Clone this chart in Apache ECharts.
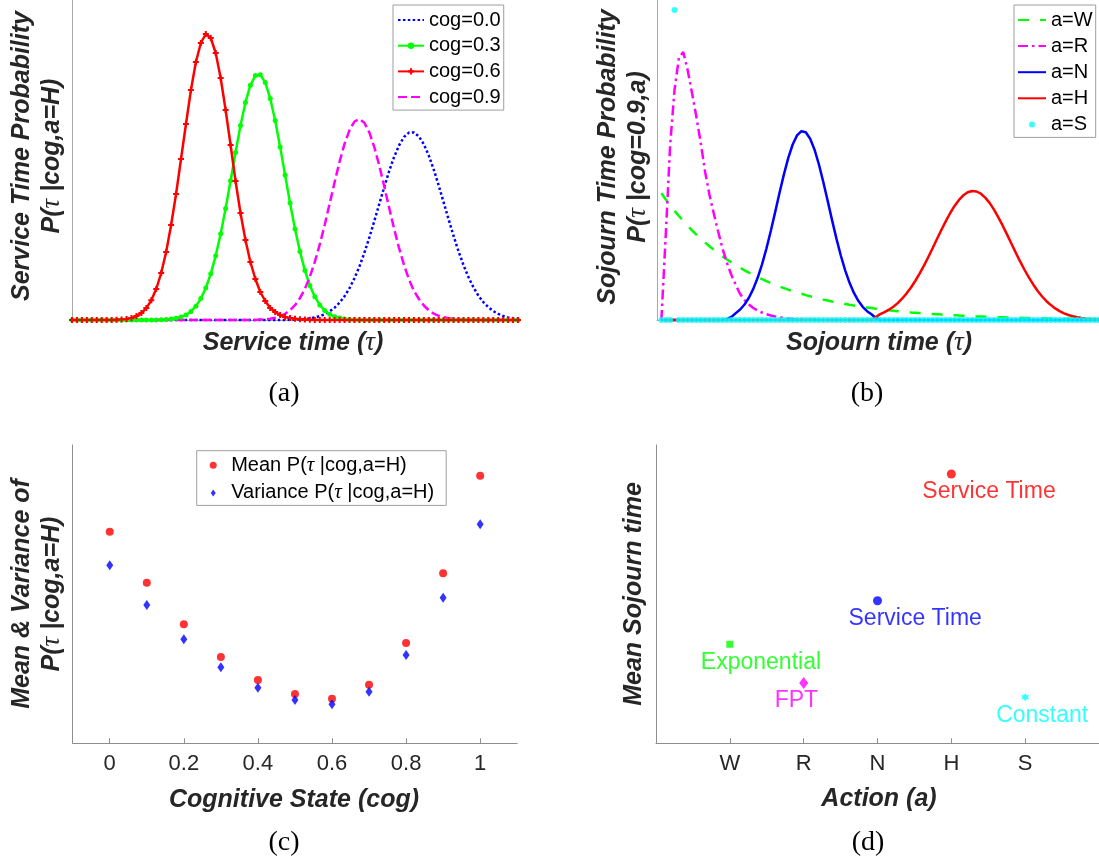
<!DOCTYPE html>
<html>
<head>
<meta charset="utf-8">
<script src="https://cdn.jsdelivr.net/npm/echarts@6/dist/echarts.min.js"></script>
<style>
  html, body { margin: 0; padding: 0; background: #fff; }
  #chart { width: 1099px; height: 867px; }
</style>
</head>
<body>
<div id="chart"></div>
<script>
// ---------- (a) service-time density P(tau | cog, a=H), sampled on tau index ----------
const tauA = [0,1,2,3,4,5,6,7,8,9,10,11,12,13,14,15,16,17,18,19,20,21,22,23,24,25,26,27,28,29,30,
  31,32,33,34,35,36,37,38,39,40,41,42,43,44,45,46,47,48,49,50,51,52,53,54,55,56,57,58,59,60,
  61,62,63,64,65,66,67,68,69,70,71,72,73,74,75,76,77,78,79,80,81,82,83,84,85,86,87,88,89,90];

const pA_cog00 = [0,0,0,0,0,0,0,0,0,0,0,0,0,0,0,0,0,0,0,0,0,0,0,0,0,0,0,0,0,0,0,0,0,0,0,0,0,0,0,0,0,0,0,0,
  0.002,0.004,0.006,0.010,0.016,0.025,0.039,0.058,0.086,0.123,0.173,0.237,0.318,0.418,0.536,0.672,
  0.825,0.989,1.159,1.328,1.489,1.631,1.747,1.830,1.874,1.876,1.836,1.757,1.644,1.504,1.345,1.176,
  1.006,0.840,0.687,0.549,0.429,0.328,0.244,0.179,0.128,0.089,0.061,0.040,0.026,0.017,0.010];

const pA_cog03 = [0,0,0,0,0,0,0,0,0,0,0,0,0,0,0,0,0,0,
  0.002,0.004,0.009,0.017,0.030,0.051,0.086,0.138,0.214,0.320,0.462,0.643,0.862,1.116,1.392,1.675,
  1.944,2.176,2.348,2.444,2.453,2.374,2.216,1.994,1.731,1.449,1.170,0.910,0.684,0.495,0.345,0.233,
  0.151,0.095,0.057,0.033,0.019,0.010,0.005,0.002,
  0,0,0,0,0,0,0,0,0,0,0,0,0,0,0,0,0,0,0,0,0,0,0,0,0,0,0,0,0,0,0,0,0];

const pA_cog06 = [0,0,0,0,0,0,0,0,0,
  0.002,0.005,0.011,0.021,0.039,0.069,0.119,0.197,0.310,0.470,0.680,0.950,1.260,1.610,1.960,2.300,
  2.580,2.770,2.860,2.820,2.670,2.420,2.100,1.750,1.390,1.070,0.800,0.580,0.410,0.280,0.190,0.120,
  0.080,0.050,0.030,0.020,0.012,0.007,0.004,0.002,0.001,
  0,0,0,0,0,0,0,0,0,0,0,0,0,0,0,0,0,0,0,0,0,0,0,0,0,0,0,0,0,0,0,0,0,0,0,0,0,0,0,0,0];

const pA_cog09 = [0,0,0,0,0,0,0,0,0,0,0,0,0,0,0,0,0,0,0,0,0,0,0,0,0,0,0,0,0,0,0,0,0,0,0,0,0,0,
  0.004,0.007,0.013,0.023,0.038,0.062,0.097,0.148,0.218,0.312,0.433,0.581,0.756,0.953,1.165,1.380,
  1.584,1.762,1.899,1.985,2.010,1.972,1.876,1.729,1.545,1.337,1.122,0.912,0.719,0.549,0.406,0.291,
  0.210,0.145,0.097,0.064,0.042,0.027,0.017,0.011,0.007,0.004,0.002,0.001,
  0,0,0,0,0,0,0,0,0];

const cogNamesA = ['cog=0.0', 'cog=0.3', 'cog=0.6', 'cog=0.9'];

// ---------- (b) sojourn-time density P(tau | cog=0.9, a) ----------
const tauB = [0,1,2,3,4,5,6,7,8,9,10,11,12,13,14,15,16,17,18,19,20,21,22,23,24,25,26,27,28,29,30,
  31,32,33,34,35,36,37,38,39,40,41,42,43,44,45,46,47,48,49,50,51,52,53,54,55,56,57,58,59,60,
  61,62,63,64,65,66,67,68,69,70,71,72,73,74,75,76,77,78,79,80,81,82,83,84,85,86,87,88,89,90,
  91,92,93,94,95,96,97,98,99,100];

const pB_W = [1.267,1.206,1.148,1.093,1.040,0.990,0.943,0.897,0.854,0.813,0.774,0.737,0.701,0.668,
  0.636,0.605,0.576,0.548,0.522,0.497,0.473,0.450,0.428,0.408,0.388,0.370,0.352,0.335,0.319,0.303,
  0.289,0.275,0.262,0.249,0.237,0.226,0.215,0.204,0.195,0.185,0.176,0.168,0.160,0.152,0.145,0.138,
  0.131,0.125,0.119,0.113,0.108,0.102,0.097,0.093,0.088,0.084,0.080,0.076,0.073,0.069,0.066,0.063,
  0.060,0.057,0.054,0.051,0.049,0.047,0.044,0.042,0.040,0.038,0.036,0.035,0.033,0.031,0.030,0.028,
  0.027,0.026,0.024,0.023,0.022,0.021,0.020,0.019,0.018,0.017,0.016,0.015,0.015,0.014,0.013,0.013,
  0.012,0.011,0.011,0.010,0.010,0.009,0.009];

const pB_R = [0,0.85,1.75,2.30,2.62,2.68,2.50,2.27,2.03,1.77,1.48,1.25,1.06,0.88,0.71,0.57,0.45,
  0.35,0.26,0.20,0.155,0.12,0.095,0.075,0.058,0.045,0.035,0.027,0.020,0.015,0.011,0.008,0.006,0.004,
  0.003,0.002,0.001,
  0,0,0,0,0,0,0,0,0,0,0,0,0,0,0,0,0,0,0,0,0,0,0,0,0,0,0,0,0,0,0,0,0,0,0,0,0,0,0,0,0,0,0,0,0,0,
  0,0,0,0,0,0,0,0,0,0,0,0,0,0,0,0,0,0];

const pB_N = [0,0,0,0,0,0,0,0,0,0,0,0,0,0,0,
  0.010,0.030,0.069,0.105,0.155,0.223,0.311,0.422,0.557,0.714,0.890,1.079,1.272,1.456,1.621,1.755,
  1.846,1.888,1.877,1.813,1.703,1.555,1.380,1.191,0.999,0.814,0.645,0.497,0.372,0.271,0.192,0.132,
  0.088,0.057,0.020,
  0,0,0,0,0,0,0,0,0,0,0,0,0,0,0,0,0,0,0,0,0,0,0,0,0,0,0,0,0,0,0,0,0,0,0,0,0,0,0,0,0,0,0,0,0,0,
  0,0,0,0,0];

const pB_H = [0,0,0,0,0,0,0,0,0,0,0,0,0,0,0,0,0,0,0,0,0,0,0,0,0,0,0,0,0,0,0,0,0,0,0,0,0,0,0,0,
  0,0,0,0,0,0,0,0,0,
  0.030,0.059,0.078,0.103,0.133,0.169,0.213,0.264,0.323,0.390,0.464,0.544,0.630,0.720,0.812,0.902,
  0.989,1.070,1.141,1.201,1.247,1.277,1.290,1.285,1.263,1.224,1.171,1.104,1.027,0.943,0.854,0.762,
  0.671,0.583,0.500,0.423,0.353,0.290,0.235,0.188,0.149,0.116,0.089,0.067,0.050,0.037,0.027,0.019,
  0.013,0.009,0.006,0.004];

const pB_S = [0,0,0,3.10,0,0,0,0,0,0,0,0,0,0,0,0,0,0,0,0,0,0,0,0,0,0,0,0,0,0,0,0,0,0,0,0,0,0,0,0,
  0,0,0,0,0,0,0,0,0,0,0,0,0,0,0,0,0,0,0,0,0,0,0,0,0,0,0,0,0,0,0,0,0,0,0,0,0,0,0,0,0,0,0,0,0,0,
  0,0,0,0,0,0,0,0,0,0,0,0,0,0,0];

const actionNamesB = ['a=W', 'a=R', 'a=N', 'a=H', 'a=S'];

// ---------- (c) mean and variance of P(tau | cog, a=H) ----------
const cogStates = [0, 0.1, 0.2, 0.3, 0.4, 0.5, 0.6, 0.7, 0.8, 0.9, 1.0];
const meanH = [21.28, 16.15, 11.97, 8.68, 6.37, 4.96, 4.49, 5.89, 10.09, 17.10, 26.91];
const varH  = [17.90, 13.91, 10.46, 7.64, 5.59, 4.35, 3.92, 5.19, 8.88, 14.64, 22.03];
const cogTicks = [0, 0.2, 0.4, 0.6, 0.8, 1];
const cogTickLabels = ['0', '0.2', '0.4', '0.6', '0.8', '1'];
const statNamesC = ['Mean P(τ |cog,a=H)', 'Variance P(τ |cog,a=H)'];

// ---------- (d) mean sojourn time per action ----------
const actions = ['W', 'R', 'N', 'H', 'S'];
const actionPos = [1, 2, 3, 4, 5];
const meanSojourn = [9.96, 6.06, 14.34, 27.08, 4.63];
const sojournModel = ['Exponential', 'FPT', 'Service Time', 'Service Time', 'Constant'];

// ---------- styling ----------
const SANS = '"Liberation Sans", Arial, Helvetica, sans-serif';
const SERIF = '"Liberation Serif", "Times New Roman", serif';
const INK = '#262626';
const AXIS_LIGHT = '#a8a8a8';
const AXIS_DARK = '#8e8e8e';
const C = { blue: '#0000ff', green: '#00ff00', red: '#ff0000', magenta: '#ff00ff', cyan: '#00ffff' };
const plusMark = 'path://M2,0h2v2h2v2h-2v2h-2v-2h-2v-2h2z';
const diamondMark = 'path://M0,-7L5,0L0,7L-5,0Z';
const hexStar = 'path://M0,-10L2.9,-5L8.66,-5L5.8,0L8.66,5L2.9,5L0,10L-2.9,5L-8.66,5L-5.8,0L-8.66,-5L-2.9,-5Z';
const dStyles = [
  { symbol: 'rect', symbolSize: 7, color: C.green },
  { symbol: 'diamond', symbolSize: [9, 12], color: C.magenta },
  { symbol: 'circle', symbolSize: 9, color: C.blue },
  { symbol: 'circle', symbolSize: 9, color: C.red },
  { symbol: hexStar, symbolSize: 8, color: C.cyan }
];

const zip = (xs, ys) => xs.map((x, i) => [x, ys[i]]);
const tauRich = { t: { fontFamily: SERIF, fontStyle: 'italic', fontWeight: 'normal', fontSize: 27, lineHeight: 30, fill: INK } };
const tauRichLegend = { t: { fontFamily: SERIF, fontStyle: 'italic', fontSize: 21, lineHeight: 20, color: '#000' } };

function hiddenAxis(grid, min, max, color) {
  return {
    gridIndex: grid, type: 'value', min: min, max: max,
    axisLine: { show: true, onZero: false, lineStyle: { color: color, width: 1 } },
    axisTick: { show: false }, axisLabel: { show: false }, splitLine: { show: false }
  };
}

// legend entries; line-only entries hide the marker in their key
function legendBox(items, left, top, pad, itemW, itemH, gap) {
  return {
    data: items, orient: 'vertical', left: left, top: top, padding: pad,
    itemWidth: itemW, itemHeight: itemH, itemGap: gap, selectedMode: false, symbolKeepAspect: true,
    backgroundColor: '#fff', borderColor: '#9f9f9f', borderWidth: 1, borderRadius: 0,
    formatter: n => n.replace('τ', '{t|τ}'),
    textStyle: { fontFamily: SANS, fontSize: 20, lineHeight: 20, color: '#000', rich: tauRichLegend }
  };
}
const lineOnly = name => ({ name: name, itemStyle: { opacity: 0 } });

function title(text, x, y, rotate) {
  return {
    type: 'text', x: x, y: y, rotation: rotate ? Math.PI / 2 : 0, silent: true,
    style: {
      text: text, fontFamily: SANS, fontWeight: 'bold', fontStyle: 'italic', fontSize: 25,
      lineHeight: 30, fill: INK, align: 'center', verticalAlign: 'middle', rich: tauRich
    }
  };
}

function caption(text, x, y) {
  return {
    type: 'text', x: x, y: y, silent: true,
    style: { text: text, fontFamily: SERIF, fontSize: 28, fill: '#000', align: 'center', verticalAlign: 'middle' }
  };
}

const chart = echarts.init(document.getElementById('chart'), null, { renderer: 'canvas' });

const option = {
  animation: false,
  backgroundColor: '#fff',
  textStyle: { fontFamily: SANS },
  grid: [
    { left: 72, top: 0, width: 446, height: 320 },
    { left: 657, top: 0, width: 442, height: 320 },
    { left: 72.7, top: 445, width: 444.5, height: 298.3 },
    { left: 656, top: 445, width: 444, height: 298.3 }
  ],
  xAxis: [
    hiddenAxis(0, 0, 90, AXIS_LIGHT),
    hiddenAxis(1, -1, 100, AXIS_LIGHT),
    {
      gridIndex: 2, type: 'value', min: -0.1, max: 1.1,
      axisLine: { show: true, onZero: false, lineStyle: { color: AXIS_DARK, width: 1 } },
      axisTick: { show: true, inside: true, length: 5, customValues: cogTicks, lineStyle: { color: AXIS_DARK } },
      axisLabel: {
        customValues: cogTicks, margin: 10, fontSize: 22, color: INK, fontFamily: SANS,
        formatter: v => cogTickLabels[cogTicks.indexOf(v)]
      },
      splitLine: { show: false }
    },
    {
      gridIndex: 3, type: 'value', min: 0, max: 6,
      axisLine: { show: true, onZero: false, lineStyle: { color: AXIS_DARK, width: 1 } },
      axisTick: { show: true, inside: true, length: 5, customValues: actionPos, lineStyle: { color: AXIS_DARK } },
      axisLabel: {
        customValues: actionPos, margin: 10, fontSize: 22, color: INK, fontFamily: SANS,
        formatter: v => actions[actionPos.indexOf(v)]
      },
      splitLine: { show: false }
    }
  ],
  yAxis: [
    hiddenAxis(0, 0, 3.2, AXIS_LIGHT),
    hiddenAxis(1, 0, 3.2, AXIS_LIGHT),
    hiddenAxis(2, 0, 30, AXIS_DARK),
    hiddenAxis(3, 0, 30, AXIS_DARK)
  ],
  legend: [
    legendBox([lineOnly(cogNamesA[0]), cogNamesA[1], cogNamesA[2], lineOnly(cogNamesA[3])],
      393, 5, [5, 3, 3, 4], 26, 8, 5.7),
    legendBox([lineOnly(actionNamesB[0]), lineOnly(actionNamesB[1]), lineOnly(actionNamesB[2]),
      lineOnly(actionNamesB[3]), actionNamesB[4]], 1014, 5, [5, 3, 3, 3], 28, 6, 6.1),
    legendBox([statNamesC[0], { name: statNamesC[1], icon: diamondMark }],
      196.7, 450.7, [4, 12, 2, 13], 26, 7, 6.7)
  ],
  series: [
    // (a)
    { name: cogNamesA[0], type: 'line', xAxisIndex: 0, yAxisIndex: 0, data: zip(tauA, pA_cog00),
      symbol: 'none', clip: false, silent: true,
      lineStyle: { color: C.blue, width: 2.5, type: [2.5, 2.4] }, itemStyle: { color: C.blue } },
    { name: cogNamesA[1], type: 'line', xAxisIndex: 0, yAxisIndex: 0, data: zip(tauA, pA_cog03),
      symbol: 'circle', symbolSize: 5, showAllSymbol: true, clip: false, silent: true,
      lineStyle: { color: C.green, width: 2.5 }, itemStyle: { color: C.green } },
    { name: cogNamesA[2], type: 'line', xAxisIndex: 0, yAxisIndex: 0, data: zip(tauA, pA_cog06),
      symbol: plusMark, symbolSize: 6, showAllSymbol: true, clip: false, silent: true,
      lineStyle: { color: C.red, width: 2.5 }, itemStyle: { color: C.red } },
    { name: cogNamesA[3], type: 'line', xAxisIndex: 0, yAxisIndex: 0, data: zip(tauA, pA_cog09),
      symbol: 'none', clip: false, silent: true,
      lineStyle: { color: C.magenta, width: 2.5, type: [9, 4] }, itemStyle: { color: C.magenta } },
    // (b)
    { name: actionNamesB[0], type: 'line', xAxisIndex: 1, yAxisIndex: 1, data: zip(tauB, pB_W),
      symbol: 'none', clip: false, silent: true,
      lineStyle: { color: C.green, width: 2.5, type: [11, 11] }, itemStyle: { color: C.green } },
    { name: actionNamesB[1], type: 'line', xAxisIndex: 1, yAxisIndex: 1, data: zip(tauB, pB_R),
      symbol: 'none', clip: false, silent: true,
      lineStyle: { color: C.magenta, width: 2.5, type: [10, 4, 2.5, 4] }, itemStyle: { color: C.magenta } },
    { name: actionNamesB[2], type: 'line', xAxisIndex: 1, yAxisIndex: 1, data: zip(tauB, pB_N),
      symbol: 'none', clip: false, silent: true,
      lineStyle: { color: C.blue, width: 2.5 }, itemStyle: { color: C.blue } },
    { name: actionNamesB[3], type: 'line', xAxisIndex: 1, yAxisIndex: 1, data: zip(tauB, pB_H),
      symbol: 'none', clip: false, silent: true,
      lineStyle: { color: C.red, width: 2.5 }, itemStyle: { color: C.red } },
    { name: actionNamesB[4], type: 'scatter', xAxisIndex: 1, yAxisIndex: 1, data: zip(tauB, pB_S),
      symbol: 'circle', symbolSize: 6, clip: false, silent: true, z: 5, itemStyle: { color: C.cyan } },
    // (c)
    { name: statNamesC[0], type: 'scatter', xAxisIndex: 2, yAxisIndex: 2, data: zip(cogStates, meanH),
      symbol: 'circle', symbolSize: 8, silent: true, itemStyle: { color: C.red } },
    { name: statNamesC[1], type: 'scatter', xAxisIndex: 2, yAxisIndex: 2, data: zip(cogStates, varH),
      symbol: 'diamond', symbolSize: [7, 10], silent: true, itemStyle: { color: C.blue } },
    // (d)
    { name: 'Mean Sojourn time', type: 'scatter', xAxisIndex: 3, yAxisIndex: 3, silent: true, clip: false,
      data: actionPos.map((x, i) => ({
        value: [x, meanSojourn[i]],
        symbol: dStyles[i].symbol, symbolSize: dStyles[i].symbolSize,
        itemStyle: { color: dStyles[i].color },
        label: { color: dStyles[i].color }
      })),
      label: {
        show: true, position: 'inside', align: 'left', verticalAlign: 'middle', offset: [-29, 18],
        fontFamily: SANS, fontSize: 23, formatter: p => sojournModel[p.dataIndex]
      }
    }
  ],
  graphic: [
    title('Service time ({t|τ})', 293, 343, false),
    title('Service Time Probability\nP({t|τ} |cog,a=H)', 36.7, 156, true),
    caption('(a)', 284, 394),
    title('Sojourn time ({t|τ})', 879, 343, false),
    title('Sojourn Time Probability\nP({t|τ} |cog=0.9,a)', 623, 157, true),
    caption('(b)', 867, 394),
    title('Cognitive State (cog)', 294, 800, false),
    title('Mean & Variance of\nP({t|τ} |cog,a=H)', 36.7, 594, true),
    caption('(c)', 284, 843),
    title('Action (a)', 879, 799, false),
    title('Mean Sojourn time', 634, 594, true),
    caption('(d)', 868, 843)
  ]
};

chart.setOption(option);
</script>
</body>
</html>
